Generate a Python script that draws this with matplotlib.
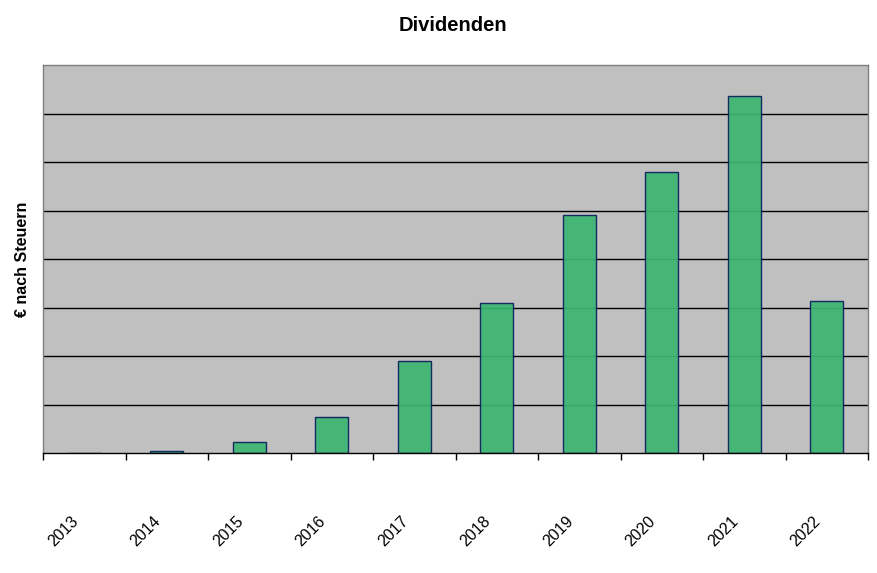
import matplotlib
matplotlib.use("Agg")
import matplotlib.pyplot as plt
import matplotlib.transforms as mtransforms
import numpy as np

plt.rcParams['font.family'] = ['Liberation Sans', 'DejaVu Sans']

jahre = ['2013', '2014', '2015', '2016', '2017', '2018', '2019', '2020', '2021', '2022']
dividenden = [0, 6, 23, 76, 191, 310, 491, 579, 736, 315]

fig = plt.figure(figsize=(8.78, 5.73), dpi=100)
ax = fig.add_axes([0.049, 0.2086, 0.9398, 0.678])

x = np.arange(len(jahre))
ax.bar(x, dividenden, width=0.4, color='#3DB672', edgecolor='#0B1F5C',
       linewidth=1.0, alpha=0.93, zorder=2)

ax.set_facecolor('#C0C0C0')
ax.set_xlim(-0.5, len(jahre) - 0.5)
ax.set_ylim(0, 800)
ax.set_yticks(np.arange(100, 800, 100))
ax.yaxis.grid(True, color='black', linewidth=1.0, zorder=1)
ax.set_axisbelow(True)
ax.tick_params(axis='y', left=False, labelleft=False)

# Ticks zwischen den Kategorien, Labels in der Mitte
ax.set_xticks(np.arange(-0.5, len(jahre)), minor=False)
ax.set_xticklabels([])
ax.set_xticks(x, minor=True)
ax.set_xticklabels(jahre, minor=True, rotation=45, ha='center', va='center', fontsize=11.5)
ax.tick_params(axis='x', which='major', length=5, width=1, color='black', direction='out')
ax.tick_params(axis='x', which='minor', length=0, pad=0)
offset = mtransforms.ScaledTranslation(-21 / 100, -78 / 100, fig.dpi_scale_trans)
for lbl in ax.xaxis.get_minorticklabels():
    lbl.set_transform(lbl.get_transform() + offset)

for side in ['top', 'left', 'right']:
    ax.spines[side].set_color('#808080')
    ax.spines[side].set_linewidth(1.0)
ax.spines['bottom'].set_color('black')
ax.spines['bottom'].set_linewidth(1.0)

fig.text(0.516, 0.956, 'Dividenden', ha='center', va='center', fontsize=14.5, fontweight='bold')
fig.text(0.026, 0.548, '€ nach Steuern', ha='center', va='center', rotation=90,
         fontsize=11.5, fontweight='bold')

fig.savefig('out.png', dpi=100, facecolor='white')
